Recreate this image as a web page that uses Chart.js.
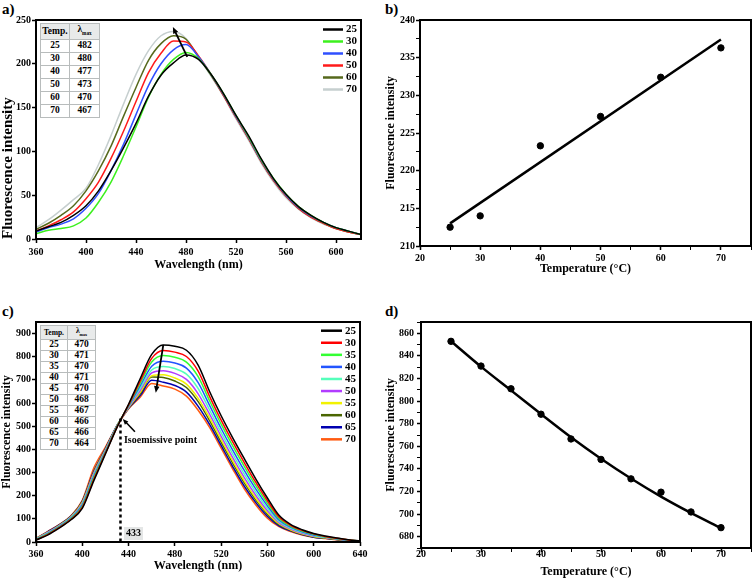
<!DOCTYPE html>
<html>
<head>
<meta charset="utf-8">
<script src="https://cdn.jsdelivr.net/npm/chart.js@4.4.1/dist/chart.umd.min.js"></script>
<style>
  body { margin: 0; width: 756px; height: 579px; position: relative; overflow: hidden; background: #fff;
         font-family: "Liberation Serif", "Times New Roman", serif; font-weight: bold; }
  canvas { position: absolute; }
  .lab { position: absolute; font-size: 15px; line-height: 15px; }
  table.t { position: absolute; border-collapse: collapse; text-align: center; background: #fff; table-layout: fixed; }
  table.t td { border: 1px solid #b8bcbc; padding: 0; }
  table.t tr:first-child td { background: #e8eaea; }
  table.t sub { font-size: 55%; }
</style>
</head>
<body>
<div class="lab" style="left:2px;top:2px">a)</div>
<div class="lab" style="left:385px;top:2px">b)</div>
<div class="lab" style="left:2px;top:304px">c)</div>
<div class="lab" style="left:385px;top:304px">d)</div>

<canvas id="ca" width="378" height="290" style="left:0;top:0"></canvas>
<canvas id="cb" width="378" height="290" style="left:378px;top:0"></canvas>
<canvas id="cc" width="378" height="289" style="left:0;top:290px"></canvas>
<canvas id="cd" width="378" height="289" style="left:378px;top:290px"></canvas>

<script>
// ---- panel a: spectra at different temperatures ----
const WL_A = [360,370,380,390,400,410,420,430,440,450,460,470,480,490,500,510,520,530,540,550,560,570,580,590,600,610,620];
const TEMP_A = ['25','30','40','50','60','70'];
const LMAX_A = [482,480,477,473,470,467];
const A25 = [9,14,19,27,38,55,78,104,132,163,187,201,210,205,188,166,141,118,92,69,51,37,27,19,13,9,5];
const A30 = [6,10,12,15,24,42,65,95,128,162,188,205,213,206,188,166,141,117,91,69,51,37,27,19,13,9,5];
const A40 = [8,13,17,23,35,52,78,108,142,175,200,216,222,208,188,165,140,116,90,68,50,36,26,19,13,9,5];
const A50 = [9,15,22,31,46,65,92,123,157,190,212,226,225,209,188,164,139,115,89,67,49,35,25,18,12,8,5];
const A60 = [11,18,27,38,55,78,106,140,173,204,223,232,228,208,187,164,139,115,89,67,49,35,25,18,12,8,5];
const A70 = [13,22,33,45,58,85,118,154,188,215,232,237,229,207,186,163,137,113,87,65,47,34,24,17,12,8,5];
const COLORS_A = ['#000000','#3cf01e','#2f4fff','#ff1a1a','#56691c','#c6cfcf'];
const XTICKS_A = [360,400,440,480,520,560,600];
const YTICKS_A = [0,50,100,150,200,250];
const ARROW_A = [481, 208, 469.5, 242];

// ---- panel b: intensity vs temperature ----
const TEMP_B = [25,30,40,50,60,70];
const INT_B = [212.5,214.0,223.3,227.2,232.4,236.3];
const FIT_B_X = [25,70];
const FIT_B_Y = [213.0,237.4];
const XTICKS_T = [20,25,30,35,40,45,50,55,60,65,70,75];
const XMAJOR_T = [20,30,40,50,60,70];
const YTICKS_B = [210,212.5,215,217.5,220,222.5,225,227.5,230,232.5,235,237.5,240];
const YMAJOR_B = [210,215,220,225,230,235,240];

// ---- panel c: spectra at different temperatures ----
const WL_C = [360,370,380,390,400,410,420,430,440,450,460,470,480,490,500,510,520,530,540,550,560,570,580,590,600,610,620,630,640];
const TEMP_C = ['25','30','35','40','45','50','55','60','65','70'];
const LMAX_C = [470,471,470,471,470,468,467,466,466,464];
const C25 = [8,30,60,95,145,265,380,495,595,705,810,851,845,828,765,650,545,450,360,272,190,115,76,53,37,26,17,10,4];
const C30 = [9,32,62,97,150,271,383,496,592,694,793,827,820,801,739,629,526,432,343,257,178,108,72,50,35,24,16,9,4];
const C35 = [10,34,64,99,154,277,386,498,590,685,777,805,798,777,715,610,509,415,327,243,167,102,68,47,33,23,15,9,4];
const C40 = [11,36,66,102,159,283,390,499,587,674,759,781,773,751,689,590,490,397,309,228,156,95,64,44,30,22,14,8,4];
const C45 = [12,38,68,104,163,288,393,500,585,664,743,758,749,725,664,570,472,380,293,214,145,89,60,41,28,20,13,8,3];
const C50 = [13,40,70,106,167,294,396,501,582,654,730,740,728,702,641,552,456,364,278,201,135,84,56,38,26,19,13,7,3];
const C55 = [14,41,71,108,171,298,398,502,580,646,718,722,708,682,621,536,442,350,264,189,126,79,53,36,24,18,12,7,3];
const C60 = [14,42,72,109,173,301,400,503,579,640,712,710,695,667,607,524,431,341,255,181,120,75,51,34,23,17,11,7,3];
const C65 = [15,44,74,111,177,306,403,504,577,632,698,690,676,647,587,508,417,326,241,170,111,70,48,32,21,16,11,6,3];
const C70 = [16,45,75,112,180,320,410,500,575,625,684,674,660,630,570,495,405,315,230,160,103,66,45,30,20,15,10,6,3];
const COLORS_C = ['#000000','#ff0000','#33ff33','#2255ff','#55ffbb','#b23cff','#f2f200','#4a6600','#0000b0','#ff5a10'];
const XTICKS_C = [360,400,440,480,520,560,600,640];
const YTICKS_C = [0,100,200,300,400,500,600,700,800,900];
const ISO_X = 433, ISO_Y = 533;
const ARROW_C = [470, 851, 463.5, 645];
const ARROW_ISO = [445.5, 476, 435, 531];
const ISO_TEXT = [436, 437];

// ---- panel d: intensity vs temperature ----
const TEMP_D = [25,30,35,40,45,50,55,60,65,70];
const INT_D = [852.9,831,810.9,788.4,766.5,748.4,731.2,719.4,701.9,688];
const FIT_D = [853,830.5,809.5,788.5,768,749,731.5,715.5,701,687.5];
const YTICKS_D = [670,680,690,700,710,720,730,740,750,760,770,780,790,800,810,820,830,840,850,860,870];
const YMAJOR_D = [680,700,720,740,760,780,800,820,840,860];

Chart.defaults.font.family = '"Liberation Serif", "Times New Roman", serif';
Chart.defaults.font.weight = 'bold';
Chart.defaults.color = '#000';

function scaleCfg(o) {
  const major = o.major || o.ticks;
  return {
    type: 'linear', min: o.min, max: o.max,
    afterBuildTicks: s => { s.ticks = o.ticks.map(v => ({ value: v })); },
    afterFit: s => { if (o.horizontal) s.height = o.fit; else s.width = o.fit; },
    ticks: {
      autoSkip: false, maxRotation: 0, padding: o.pad, color: '#000',
      font: { size: 10, weight: 'bold' },
      callback: v => major.includes(v) ? String(v) : ''
    },
    grid: {
      drawOnChartArea: false, drawTicks: true, tickLength: 4, color: '#000',
      tickWidth: c => (c.tick && major.includes(c.tick.value)) ? 1.5 : 1
    },
    border: { display: false },
    title: {
      display: true, text: o.title, color: '#000', align: o.align || 'center',
      font: { size: o.tsize || 12, weight: 'bold', lineHeight: 1.2 },
      padding: { top: o.tpad, bottom: o.tpad }
    }
  };
}

const framePlugin = {
  id: 'frame',
  afterDraw(chart) {
    const { ctx, chartArea: a } = chart;
    ctx.save();
    ctx.strokeStyle = '#000';
    ctx.lineWidth = 2;
    ctx.strokeRect(a.left, a.top, a.right - a.left, a.bottom - a.top);
    ctx.restore();
  }
};

const sideLegend = {
  id: 'sideLegend',
  afterDraw(chart, args, opts) {
    if (!opts.labels) return;
    const ctx = chart.ctx;
    ctx.save();
    ctx.font = 'bold 11px "Liberation Serif"';
    ctx.textBaseline = 'middle';
    ctx.lineWidth = 2.5;
    opts.labels.forEach((t, i) => {
      const y = opts.y + i * opts.dy;
      ctx.strokeStyle = opts.colors[i];
      ctx.beginPath(); ctx.moveTo(opts.x1, y); ctx.lineTo(opts.x2, y); ctx.stroke();
      ctx.fillStyle = '#000';
      ctx.fillText(t, opts.x2 + 3, y);
    });
    ctx.restore();
  }
};

function drawArrow(chart, arr, lw, hl) {
  const { ctx, scales: { x, y } } = chart;
  const x1 = x.getPixelForValue(arr[0]), y1 = y.getPixelForValue(arr[1]);
  const x2 = x.getPixelForValue(arr[2]), y2 = y.getPixelForValue(arr[3]);
  const ang = Math.atan2(y2 - y1, x2 - x1);
  ctx.save();
  ctx.strokeStyle = '#000'; ctx.fillStyle = '#000'; ctx.lineWidth = lw;
  ctx.beginPath(); ctx.moveTo(x1, y1);
  ctx.lineTo(x2 - Math.cos(ang) * hl * 0.7, y2 - Math.sin(ang) * hl * 0.7); ctx.stroke();
  ctx.beginPath(); ctx.moveTo(x2, y2);
  ctx.lineTo(x2 - hl * Math.cos(ang - 0.4), y2 - hl * Math.sin(ang - 0.4));
  ctx.lineTo(x2 - hl * Math.cos(ang + 0.4), y2 - hl * Math.sin(ang + 0.4));
  ctx.closePath(); ctx.fill();
  ctx.restore();
}

function spectra(wl, series, labels, colors) {
  return series.map((s, i) => ({
    label: labels[i],
    data: s.map((v, j) => ({ x: wl[j], y: v })),
    borderColor: colors[i], borderWidth: 1.5, pointRadius: 0,
    cubicInterpolationMode: 'monotone', fill: false
  }));
}

function buildTable(left, top, w1, w2, rowH, fs, hfs, temps, lmax) {
  const t = document.createElement('table');
  t.className = 't';
  t.style.left = left + 'px'; t.style.top = top + 'px';
  t.style.width = (w1 + w2) + 'px';
  const rows = [['Temp.', 'λ<sub>max</sub>']].concat(temps.map((v, i) => [v, String(lmax[i])]));
  rows.forEach((r, i) => {
    const tr = document.createElement('tr');
    r.forEach((c, k) => {
      const td = document.createElement('td');
      td.innerHTML = c;
      td.style.width = (k ? w2 : w1) + 'px';
      td.style.height = rowH + 'px';
      td.style.lineHeight = (rowH - 1) + 'px';
      td.style.fontSize = (i === 0 ? hfs : fs) + 'px';
      tr.appendChild(td);
    });
    t.appendChild(tr);
  });
  document.body.appendChild(t);
}

const base = {
  responsive: false, animation: false,
  plugins: { legend: { display: false }, tooltip: { enabled: false } }
};

// panel a
new Chart(document.getElementById('ca'), {
  type: 'line',
  data: { datasets: spectra(WL_A, [A25, A30, A40, A50, A60, A70], TEMP_A, COLORS_A) },
  options: {
    ...base,
    layout: { padding: { top: 20, right: 17, left: 0, bottom: 0 } },
    scales: {
      x: scaleCfg({ min: 360, max: 620, ticks: XTICKS_A, horizontal: true, fit: 51, pad: 3,
                    title: 'Wavelength (nm)', tpad: 18 }),
      y: scaleCfg({ min: 0, max: 250, ticks: YTICKS_A, fit: 36, pad: 1,
                    title: 'Fluorescence intensity', tsize: 15, tpad: -1, align: 'start' })
    },
    plugins: { ...base.plugins,
      sideLegend: { labels: TEMP_A, colors: COLORS_A, x1: 323, x2: 343, y: 29.5, dy: 12 } }
  },
  plugins: [framePlugin, sideLegend,
    { id: 'notesA', afterDatasetsDraw(chart) { drawArrow(chart, ARROW_A, 1.8, 7); } }]
});

// panel b
new Chart(document.getElementById('cb'), {
  type: 'scatter',
  data: { datasets: [
    { data: TEMP_B.map((t, i) => ({ x: t, y: INT_B[i] })), pointRadius: 3.2,
      backgroundColor: '#000', borderColor: '#000' },
    { data: FIT_B_X.map((t, i) => ({ x: t, y: FIT_B_Y[i] })), showLine: true, pointRadius: 0,
      borderColor: '#000', borderWidth: 2.5 }
  ] },
  options: {
    ...base,
    layout: { padding: { top: 20, right: 2, left: 0, bottom: 0 } },
    scales: {
      x: scaleCfg({ min: 20, max: 75, ticks: XTICKS_T, major: XMAJOR_T, horizontal: true, fit: 44, pad: 2,
                    title: 'Temperature (°C)', tpad: 14 }),
      y: scaleCfg({ min: 210, max: 240, ticks: YTICKS_B, major: YMAJOR_B, fit: 42, pad: 1,
                    title: 'Fluorescence intensity', tpad: 6 })
    }
  },
  plugins: [framePlugin]
});

// panel c
new Chart(document.getElementById('cc'), {
  type: 'line',
  data: { datasets: spectra(WL_C, [C25, C30, C35, C40, C45, C50, C55, C60, C65, C70], TEMP_C, COLORS_C) },
  options: {
    ...base,
    layout: { padding: { top: 32, right: 18, left: 0, bottom: 0 } },
    scales: {
      x: scaleCfg({ min: 360, max: 640, ticks: XTICKS_C, horizontal: true, fit: 37, pad: 2,
                    title: 'Wavelength (nm)', tpad: 6 }),
      y: scaleCfg({ min: 0, max: 950, ticks: YTICKS_C, fit: 36, pad: 1,
                    title: 'Fluorescence intensity', tpad: 0 })
    },
    plugins: { ...base.plugins,
      sideLegend: { labels: TEMP_C, colors: COLORS_C, x1: 321, x2: 342, y: 40.7, dy: 12.07 } }
  },
  plugins: [framePlugin, sideLegend, {
    id: 'notesC',
    afterDatasetsDraw(chart) {
      const { ctx, scales: { x, y } } = chart;
      const px = x.getPixelForValue(ISO_X);
      ctx.save();
      ctx.strokeStyle = '#000';
      ctx.lineWidth = 2.5;
      ctx.setLineDash([3, 3]);
      ctx.beginPath(); ctx.moveTo(px, y.getPixelForValue(ISO_Y)); ctx.lineTo(px, y.getPixelForValue(0)); ctx.stroke();
      ctx.setLineDash([]);
      const by = y.getPixelForValue(0);
      ctx.fillStyle = '#e4e6e6';
      ctx.fillRect(px + 3.5, by - 15, 19, 13);
      ctx.fillStyle = '#000';
      ctx.font = 'bold 10px "Liberation Serif"';
      ctx.textBaseline = 'middle';
      ctx.textAlign = 'center';
      ctx.fillText(String(ISO_X), px + 13, by - 8.5);
      ctx.textAlign = 'left';
      ctx.fillText('Isoemissive point', x.getPixelForValue(ISO_TEXT[0]), y.getPixelForValue(ISO_TEXT[1]));
      ctx.restore();
      drawArrow(chart, ARROW_C, 1.8, 7);
      drawArrow(chart, ARROW_ISO, 1.6, 6);
    }
  }]
});

// panel d
new Chart(document.getElementById('cd'), {
  type: 'scatter',
  data: { datasets: [
    { data: TEMP_D.map((t, i) => ({ x: t, y: INT_D[i] })), pointRadius: 3.2,
      backgroundColor: '#000', borderColor: '#000' },
    { data: TEMP_D.map((t, i) => ({ x: t, y: FIT_D[i] })), showLine: true, pointRadius: 0,
      borderColor: '#000', borderWidth: 2.5, cubicInterpolationMode: 'monotone' }
  ] },
  options: {
    ...base,
    layout: { padding: { top: 32, right: 2, left: 0, bottom: 0 } },
    scales: {
      x: scaleCfg({ min: 20, max: 75, ticks: XTICKS_T, major: XMAJOR_T, horizontal: true, fit: 31, pad: -4,
                    title: 'Temperature (°C)', tpad: 0 }),
      y: scaleCfg({ min: 670, max: 870, ticks: YTICKS_D, major: YMAJOR_D, fit: 43, pad: 3,
                    title: 'Fluorescence intensity', tpad: 6 })
    }
  },
  plugins: [framePlugin]
});

buildTable(40, 23, 28, 29, 12, 9.5, 9.5, TEMP_A, LMAX_A);
buildTable(40, 325, 26, 27, 10, 9.5, 7.5, TEMP_C, LMAX_C);
</script>
</body>
</html>
